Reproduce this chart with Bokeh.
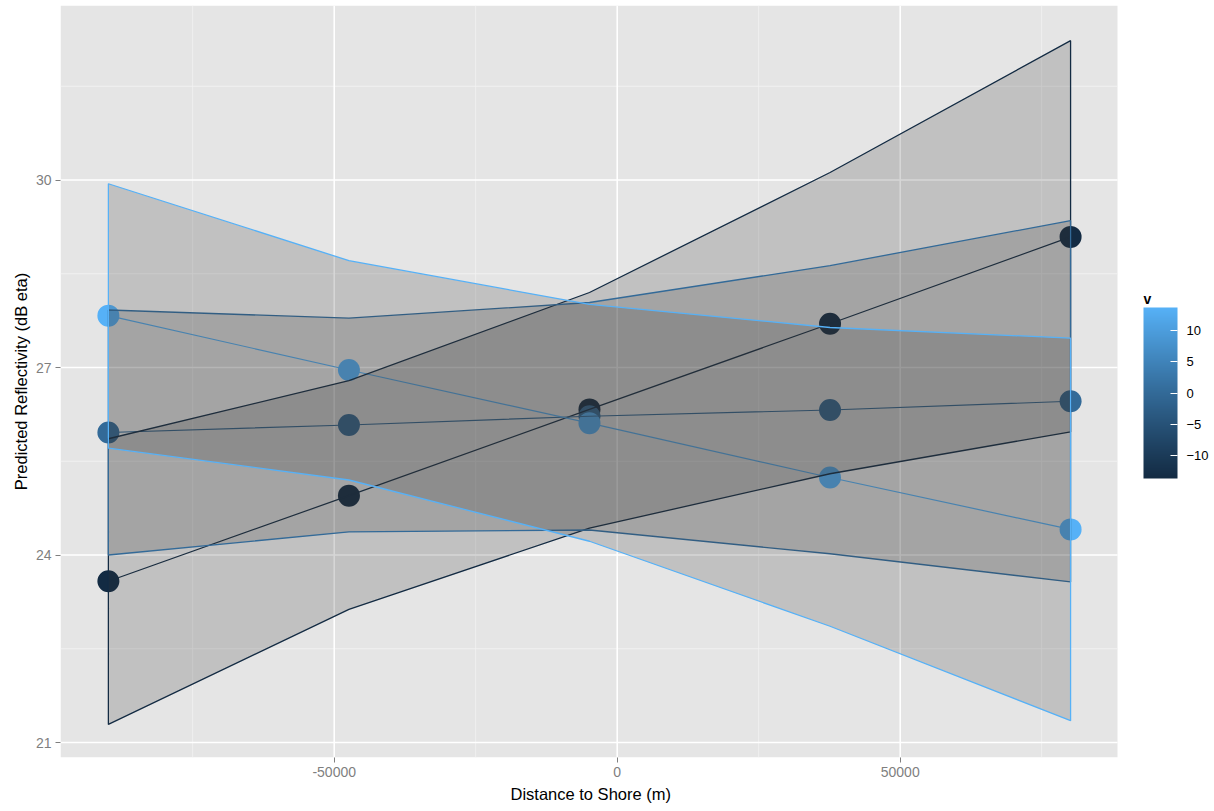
from bokeh.plotting import figure
from bokeh.models import FixedTicker, ColorBar, LinearColorMapper, Label, Title
from bokeh.embed import file_html
from bokeh.resources import INLINE

# ---------------- data ----------------
dist = [-89900, -47400, -4900, 37600, 80100]
v_levels = [-13.6, 0.0, 13.6]

fit_low = [23.58, 24.95, 26.33, 27.70, 29.09]
upper_low = [25.86, 26.79, 28.20, 30.12, 32.23]
lower_low = [21.29, 23.13, 24.43, 25.30, 25.97]

fit_mid = [25.96, 26.08, 26.22, 26.32, 26.46]
upper_mid = [27.92, 27.79, 28.04, 28.63, 29.35]
lower_mid = [24.00, 24.37, 24.40, 24.02, 23.57]

fit_high = [27.83, 26.96, 26.11, 25.24, 24.41]
upper_high = [29.94, 28.71, 28.01, 27.64, 27.47]
lower_high = [25.71, 25.20, 24.22, 22.86, 21.35]

x_ticks = [-50000, 0, 50000]
x_tick_labels = ["-50000", "0", "50000"]
x_minor = [-75000, -25000, 25000, 75000]
y_ticks = [21, 24, 27, 30]
y_minor = [22.5, 25.5, 28.5, 31.5]
legend_ticks = [-10, -5, 0, 5, 10]
legend_title = "v"
x_title = "Distance to Shore (m)"
y_title = "Predicted Reflectivity (dB eta)"

series = [
    (v_levels[0], fit_low, upper_low, lower_low),
    (v_levels[1], fit_mid, upper_mid, lower_mid),
    (v_levels[2], fit_high, upper_high, lower_high),
]

# ------------- ggplot-like Lab gradient -------------
LOW, HIGH = "#132B43", "#56B1F7"
WX, WY, WZ = 0.95047, 1.0, 1.08883


def _lin(c):
    c = c / 255.0
    return c / 12.92 if c <= 0.04045 else ((c + 0.055) / 1.055) ** 2.4


def _gam(c):
    c = 12.92 * c if c <= 0.0031308 else 1.055 * c ** (1 / 2.4) - 0.055
    return max(0, min(255, round(c * 255)))


def _f(t):
    return t ** (1 / 3) if t > 0.008856 else 7.787 * t + 16 / 116


def _finv(t):
    return t ** 3 if t ** 3 > 0.008856 else (t - 16 / 116) / 7.787


def hex_to_lab(h):
    r, g, b = (_lin(int(h[i:i + 2], 16)) for i in (1, 3, 5))
    X = 0.4124 * r + 0.3576 * g + 0.1805 * b
    Y = 0.2126 * r + 0.7152 * g + 0.0722 * b
    Z = 0.0193 * r + 0.1192 * g + 0.9505 * b
    fx, fy, fz = _f(X / WX), _f(Y / WY), _f(Z / WZ)
    return (116 * fy - 16, 500 * (fx - fy), 200 * (fy - fz))


def lab_to_hex(lab):
    L, a, b = lab
    fy = (L + 16) / 116
    fx = fy + a / 500
    fz = fy - b / 200
    X, Y, Z = WX * _finv(fx), WY * _finv(fy), WZ * _finv(fz)
    r = 3.2406 * X - 1.5372 * Y - 0.4986 * Z
    g = -0.9689 * X + 1.8758 * Y + 0.0415 * Z
    bb = 0.0557 * X - 0.2040 * Y + 1.0570 * Z
    return "#%02x%02x%02x" % (_gam(r), _gam(g), _gam(bb))


LAB_LO, LAB_HI = hex_to_lab(LOW), hex_to_lab(HIGH)
VMIN, VMAX = min(v_levels), max(v_levels)


def ramp(t):
    return lab_to_hex(tuple(lo + (hi - lo) * t for lo, hi in zip(LAB_LO, LAB_HI)))


def vcolor(v):
    return ramp((v - VMIN) / (VMAX - VMIN))


palette = [ramp(i / 255) for i in range(256)]

FONT = "Liberation Sans"

# panel (grey area) extent in data units and pixels
X_PANEL = (-98360, 88390)
Y_PANEL = (20.76, 32.792)
PANEL_W, FRAME_H = 1057, 752
FRAME_W = 1150                       # frame also covers the legend area
XPX = (X_PANEL[1] - X_PANEL[0]) / PANEL_W
YPX = (Y_PANEL[1] - Y_PANEL[0]) / FRAME_H
X_RANGE = (X_PANEL[0], X_PANEL[0] + FRAME_W * XPX)

# ---------------- figure ----------------
p = figure(
    frame_width=FRAME_W, frame_height=FRAME_H,
    x_range=X_RANGE, y_range=Y_PANEL,
    output_backend="svg", toolbar_location=None,
    min_border_left=60, min_border_top=5, min_border_right=0, min_border_bottom=0,
    background_fill_color="white", border_fill_color="white",
    outline_line_color=None,
)

# grey panel and grid lines (ggplot-style)
p.quad(left=[X_PANEL[0]], right=[X_PANEL[1]], bottom=[Y_PANEL[0]], top=[Y_PANEL[1]],
       fill_color="#E5E5E5", line_color=None)
p.segment(x0=x_minor, x1=x_minor, y0=[Y_PANEL[0]] * len(x_minor), y1=[Y_PANEL[1]] * len(x_minor),
          line_color="#F2F2F2", line_width=0.9)
p.segment(x0=[X_PANEL[0]] * len(y_minor), x1=[X_PANEL[1]] * len(y_minor), y0=y_minor, y1=y_minor,
          line_color="#F2F2F2", line_width=0.9)
p.segment(x0=x_ticks, x1=x_ticks, y0=[Y_PANEL[0]] * len(x_ticks), y1=[Y_PANEL[1]] * len(x_ticks),
          line_color="white", line_width=1.6)
p.segment(x0=[X_PANEL[0]] * len(y_ticks), x1=[X_PANEL[1]] * len(y_ticks), y0=y_ticks, y1=y_ticks,
          line_color="white", line_width=1.6)

# points first, then lines, then ribbons on top
for v, fit, up, lo in series:
    p.scatter(dist, fit, size=22, fill_color=vcolor(v), line_color=None)
for v, fit, up, lo in series:
    p.line(dist, fit, line_color=vcolor(v), line_width=1.2)
for v, fit, up, lo in series:
    p.patch(dist + dist[::-1], up + lo[::-1], fill_color="#333333", fill_alpha=0.2,
            line_color=vcolor(v), line_width=1.3)

# axes
p.xaxis.ticker = FixedTicker(ticks=x_ticks)
p.yaxis.ticker = FixedTicker(ticks=y_ticks)
p.xaxis.major_label_overrides = {t: l for t, l in zip(x_ticks, x_tick_labels)}
p.yaxis.major_label_overrides = {t: str(t) for t in y_ticks}
p.yaxis.axis_label = y_title
for ax in (p.xaxis, p.yaxis):
    ax.axis_line_color = None
    ax.minor_tick_line_color = None
    ax.major_tick_line_color = "#7F7F7F"
    ax.major_tick_out = 5
    ax.major_tick_in = 0
    ax.major_label_text_color = "#7F7F7F"
    ax.major_label_text_font = FONT
    ax.major_label_text_font_size = "14px"
    ax.axis_label_text_font = FONT
    ax.axis_label_text_font_size = "16.5px"
    ax.axis_label_text_font_style = "normal"
    ax.axis_label_text_color = "black"
p.xaxis.major_label_standoff = 4
p.yaxis.major_label_standoff = 4
p.yaxis.axis_label_standoff = 3
p.xgrid.grid_line_color = None
p.ygrid.grid_line_color = None

# x-axis title, centred under the grey panel (not under the legend area)
p.add_layout(Title(
    text=x_title, align="left", offset=450, standoff=7,
    text_font=FONT, text_font_size="16.5px", text_font_style="normal",
    text_color="black",
), "below")

# colour bar legend, placed beside the panel
mapper = LinearColorMapper(palette=palette, low=VMIN, high=VMAX)
cb = ColorBar(
    color_mapper=mapper,
    ticker=FixedTicker(ticks=legend_ticks),
    width=34, height=171,
    major_label_text_font=FONT, major_label_text_font_size="13px",
    major_label_text_color="black",
    major_tick_line_color="white", major_tick_in=7, major_tick_out=0,
    major_tick_line_width=1.2,
    minor_tick_line_color=None,
    bar_line_color=None, border_line_color=None,
    background_fill_color=None, background_fill_alpha=0,
    orientation="vertical",
    location=(1083, 279), padding=0, margin=0, label_standoff=9,
)
p.add_layout(cb)

p.add_layout(Label(
    x=X_PANEL[0] + 1083 * XPX, y=Y_PANEL[0] + 459 * YPX,
    text=legend_title, text_font=FONT, text_font_size="14px",
    text_font_style="bold", text_color="black", text_baseline="alphabetic",
))

open("out.html", "w").write(file_html(p, INLINE))
